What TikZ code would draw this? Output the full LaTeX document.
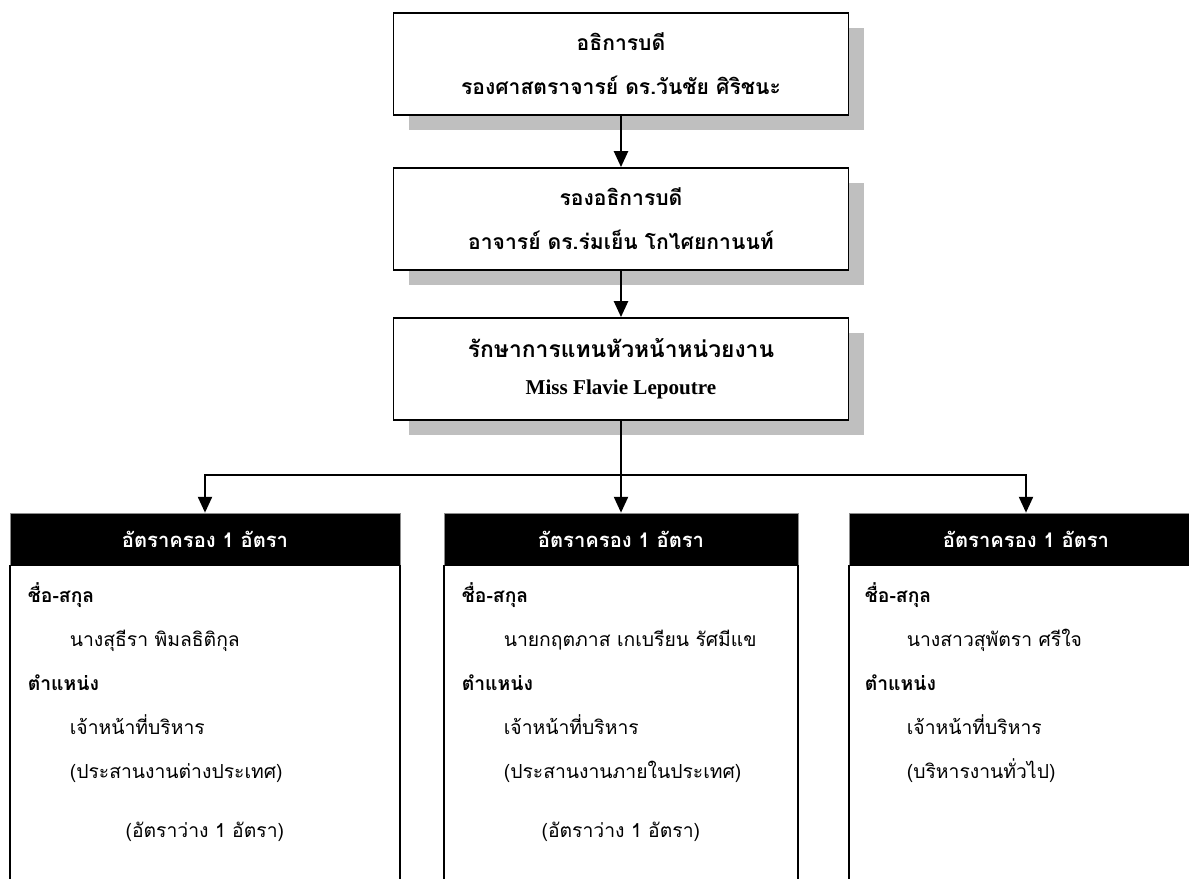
\documentclass[tikz,border=0pt]{standalone}
\usepackage{fontspec}
\setmainfont{Liberation Serif}
\newfontfamily\thaifont[Script=Thai]{Loma}
\usetikzlibrary{positioning,shadows,arrows.meta}

\tikzset{
  chiefbox/.style={draw, line width=1.1pt, fill=white, minimum width=91mm, minimum height=20.4mm,
    align=center, font=\thaifont\bfseries\fontsize{12}{25}\selectfont,
    drop shadow={shadow xshift=3mm, shadow yshift=-3mm, fill=black!25, opacity=1}},
  posthead/.style={draw=black!45, fill=black, text=white, minimum height=10.4mm,
    font=\thaifont\bfseries\fontsize{11.5}{14}\selectfont},
  postbody/.style={draw, line width=0.6pt, minimum height=70mm},
  postinfo/.style={align=left, anchor=north west, inner sep=0pt, font=\thaifont\fontsize{11}{25}\selectfont},
  conn/.style={line width=1.1pt, -{Triangle[width=8pt,length=9pt]}}
}

\begin{document}
\begin{tikzpicture}[x=0.2mm, y=-0.2mm]
    \useasboundingbox (0,0) rectangle (1189,879);
    \clip (0,0) rectangle (1189,879);

    % top of the chart
    \node[chiefbox] (dean) at (621,64) {อธิการบดี\\ รองศาสตราจารย์ ดร.วันชัย ศิริชนะ};
    \node[chiefbox] (vicedean) at (621,219) {รองอธิการบดี\\ อาจารย์ ดร.ร่มเย็น โกไศยกานนท์};
    \node[chiefbox] (acting) at (621,369) {{\fontsize{13}{18}\selectfont รักษาการแทนหัวหน้าหน่วยงาน}\\[-4pt]
        {\normalfont\bfseries\fontsize{12}{14}\selectfont Miss Flavie Lepoutre}};

    \draw[conn] (dean) -- (vicedean);
    \draw[conn] (vicedean) -- (acting);

    % the three posts
    \node[posthead, minimum width=78mm] (postA) at (205,539) {อัตราครอง 1 อัตรา};
    \node[posthead, minimum width=70.8mm] (postB) at (621,539) {อัตราครอง 1 อัตรา};
    \node[posthead, minimum width=70.8mm] (postC) at (1026,539) {อัตราครอง 1 อัตรา};

    \node[postbody, minimum width=78mm, below=0pt of postA] (bodyA) {};
    \node[postbody, minimum width=70.8mm, below=0pt of postB] (bodyB) {};
    \node[postbody, minimum width=70.8mm, below=0pt of postC] (bodyC) {};

    \node[postinfo, text width=70.8mm] (infoA) at ([xshift=3.6mm, yshift=-3.4mm]bodyA.north west) {%
        \textbf{ชื่อ-สกุล}\\ \hspace*{8.4mm}นางสุธีรา พิมลธิติกุล\\ \textbf{ตำแหน่ง}\\
        \hspace*{8.4mm}เจ้าหน้าที่บริหาร\\ \hspace*{8.4mm}(ประสานงานต่างประเทศ)\\[3mm]
        \makebox[\linewidth]{(อัตราว่าง 1 อัตรา)}};
    \node[postinfo, text width=63.6mm] (infoB) at ([xshift=3.6mm, yshift=-3.4mm]bodyB.north west) {%
        \textbf{ชื่อ-สกุล}\\ \hspace*{8.4mm}นายกฤตภาส เกเบรียน รัศมีแข\\ \textbf{ตำแหน่ง}\\
        \hspace*{8.4mm}เจ้าหน้าที่บริหาร\\ \hspace*{8.4mm}(ประสานงานภายในประเทศ)\\[3mm]
        \makebox[\linewidth]{(อัตราว่าง 1 อัตรา)}};
    \node[postinfo, text width=63.6mm] (infoC) at ([xshift=3.2mm, yshift=-3.4mm]bodyC.north west) {%
        \textbf{ชื่อ-สกุล}\\ \hspace*{8.4mm}นางสาวสุพัตรา ศรีใจ\\ \textbf{ตำแหน่ง}\\
        \hspace*{8.4mm}เจ้าหน้าที่บริหาร\\ \hspace*{8.4mm}(บริหารงานทั่วไป)};

    % connectors to the posts
    \coordinate (split) at (acting.south |- 0,475);
    \draw[conn] (acting.south) -- (postB.north);
    \draw[conn] (split) -| (postA.north);
    \draw[conn] (split) -| (postC.north);
\end{tikzpicture}
\end{document}
